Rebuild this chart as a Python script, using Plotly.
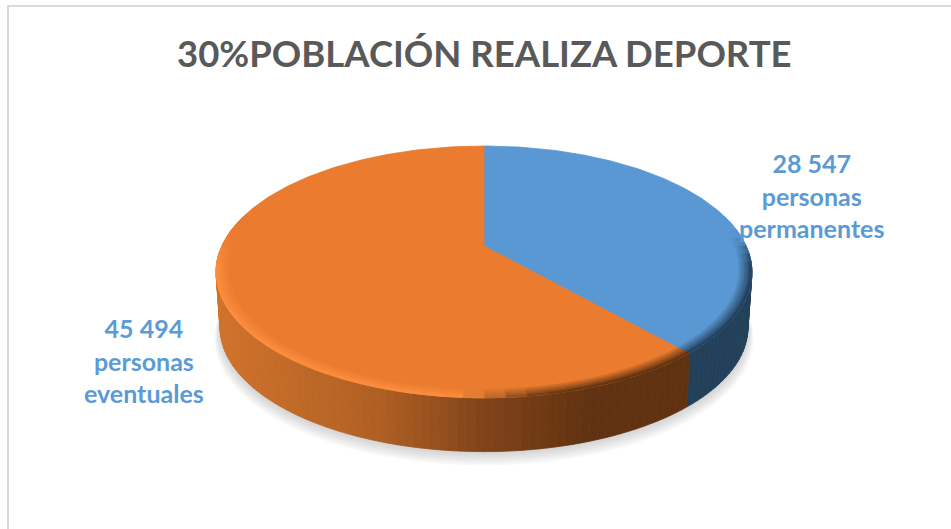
import math
import plotly.graph_objects as go

# Chart content
title = "30%POBLACIÓN REALIZA DEPORTE"
values = [28547, 45494]
groups = ["permanentes", "eventuales"]
face_colors = [(90, 152, 212), (234, 123, 47)]
label_x = [811, 144]
label_y = [195.5, 360.5]

# Pie geometry in canvas units, with a one-point perspective on the disc
CX, CY = 484.0, 246.0
TILT = 0.206
SCALE_Y = 120.6
SCALE_X = 262.2
DEPTH = 56.0
BASE_SCALE = 0.985


def project(theta, r=1.0, drop=0.0, scale=1.0):
    u = r * math.sin(theta)
    v = -r * math.cos(theta)
    d = 1 - TILT * v
    return CX + scale * SCALE_X * u / d, CY + drop + scale * SCALE_Y * v / d


def lerp(a, b, t):
    t = max(0.0, min(1.0, t))
    return tuple(a[i] + (b[i] - a[i]) * t for i in range(3))


def css(c):
    return "rgb(%d,%d,%d)" % tuple(round(x) for x in c)


def ramp(stops, t):
    for (t0, c0), (t1, c1) in zip(stops, stops[1:]):
        if t <= t1:
            return lerp(c0, c1, (t - t0) / (t1 - t0))
    return stops[-1][1]


def smooth(a, b, x):
    t = max(0.0, min(1.0, (x - a) / (b - a)))
    return t * t * (3 - 2 * t)


WALL_RAMPS = [
    [(0.0, (35, 64, 90)), (1.0, (35, 64, 90))],
    [(0.0, (208, 114, 43)), (0.3, (176, 96, 36)), (0.5, (128, 67, 25)),
     (0.7, (97, 50, 17)), (1.0, (95, 50, 16))],
]
RIM_LIGHT = [(110, 175, 235), (252, 142, 62)]

fig = go.Figure()


def polygon(xs, ys, fill, line=True):
    fig.add_trace(go.Scatter(
        x=xs, y=ys, mode="lines", fill="toself", fillcolor=fill,
        line=dict(color=fill, width=0.8 if line else 0),
        hoverinfo="skip", showlegend=False,
    ))


# Slice angles, clockwise from twelve o'clock
total = sum(values)
spans = []
start = 0.0
for v in values:
    end = start + 2 * math.pi * v / total
    spans.append((start, end))
    start = end

# Soft drop shadow under the disc
for i in range(7):
    grow = 1.0 + 0.0035 * (6 - i)
    pts = [project(2 * math.pi * a / 240, 1.0, DEPTH + 1 + 1.6 * (6 - i), BASE_SCALE * grow) for a in range(241)]
    polygon([p[0] for p in pts], [p[1] for p in pts], "rgba(120,120,120,0.055)", line=False)

# Side wall, built from thin vertical strips
front_a, front_b = math.radians(92), math.radians(268)
steps = 110
for i in range(steps):
    a = front_a + (front_b - front_a) * i / steps
    b = front_a + (front_b - front_a) * (i + 1) / steps
    mid = (a + b) / 2
    idx = 0 if mid < spans[0][1] else 1
    top_a, top_b = project(a), project(b)
    bot_a, bot_b = project(a, 1, DEPTH, BASE_SCALE), project(b, 1, DEPTH, BASE_SCALE)
    frac = (project(mid)[0] - 216) / 536
    polygon([top_a[0], top_b[0], bot_b[0], bot_a[0], top_a[0]],
            [top_a[1], top_b[1], bot_b[1], bot_a[1], top_a[1]],
            css(ramp(WALL_RAMPS[idx], frac)))

# Flat top faces
for (s, e), col in zip(spans, face_colors):
    n = max(2, int((e - s) / math.radians(1)))
    pts = [(CX, CY)] + [project(s + (e - s) * j / n) for j in range(n + 1)] + [(CX, CY)]
    polygon([p[0] for p in pts], [p[1] for p in pts], css(col))

# Bevel along the front edge of the disc
rings = [0.955, 0.965, 0.975, 0.985, 0.993, 1.0]
seg = 56
sweep_a, sweep_b = math.radians(75), math.radians(285)
for k in range(len(rings) - 1):
    r0, r1 = rings[k], rings[k + 1]
    f = (k + 1) / (len(rings) - 1)
    for i in range(seg):
        a = sweep_a + (sweep_b - sweep_a) * i / seg
        b = sweep_a + (sweep_b - sweep_a) * (i + 1) / seg
        mid = (a + b) / 2
        idx = 0 if mid < spans[0][1] else 1
        frac = (project(mid)[0] - 216) / 536
        wall = ramp(WALL_RAMPS[idx], frac)
        target = lerp(RIM_LIGHT[idx], wall, smooth(0.42, 0.62, frac))
        weight = smooth(-0.15, 0.2, -math.cos(mid)) * f
        pts = [project(a, r0), project(b, r0), project(b, r1), project(a, r1), project(a, r0)]
        polygon([p[0] for p in pts], [p[1] for p in pts], css(lerp(face_colors[idx], target, weight)))

# Data labels
for v, g, x, y in zip(values, groups, label_x, label_y):
    text = f"{v:,}".replace(",", " ") + "<br>personas<br>" + g
    fig.add_annotation(x=x, y=y, text=text, showarrow=False, align="center",
                       font=dict(family="Lato", size=25, color="#5B9BD5", weight="bold"))

fig.add_annotation(x=484, y=53, text=title, showarrow=False,
                   font=dict(family="Lato", size=36.5, color="#595959", weight="bold"))

# Chart frame
fig.add_shape(type="path", path="M 8 529 L 8 6 L 951 6", line=dict(color="#D9D9D9", width=2), layer="below")

fig.update_layout(
    width=951, height=529, margin=dict(l=0, r=0, t=0, b=0),
    paper_bgcolor="white", plot_bgcolor="white", showlegend=False,
    xaxis=dict(range=[0, 951], visible=False, fixedrange=True),
    yaxis=dict(range=[529, 0], visible=False, fixedrange=True),
)
fig.write_html("out.html", config=dict(displayModeBar=False))
